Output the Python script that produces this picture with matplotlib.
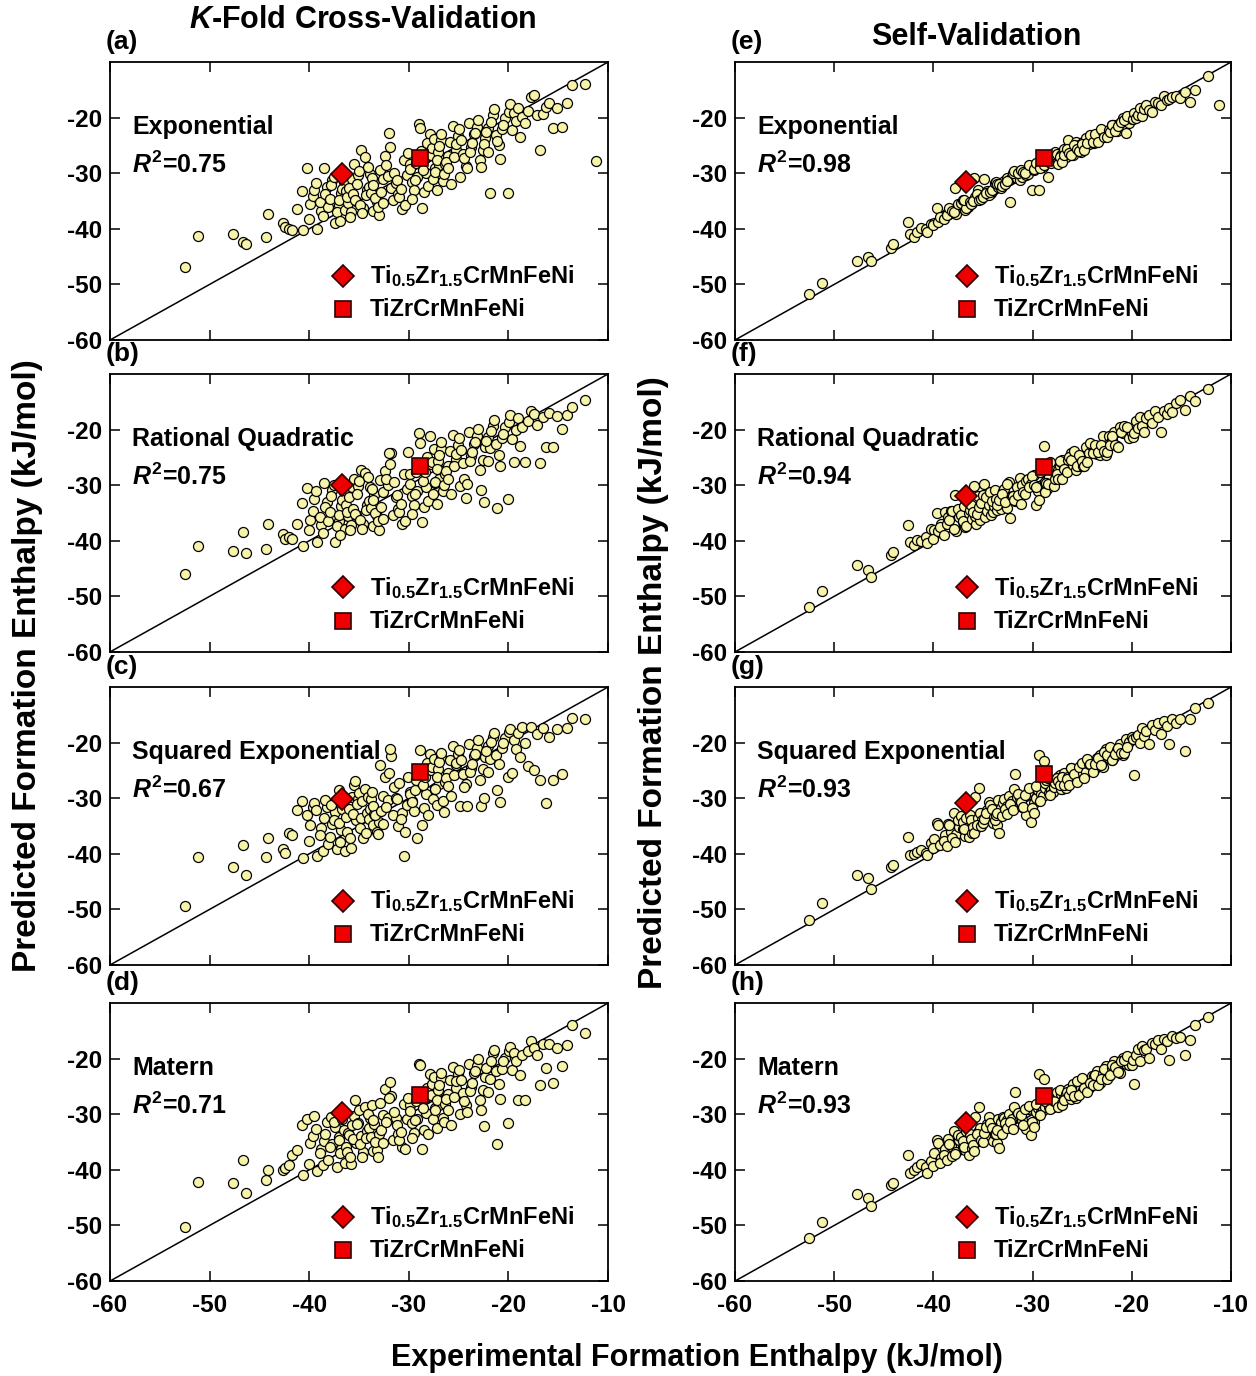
import numpy as np
import matplotlib
matplotlib.use("Agg")
import matplotlib.pyplot as plt

plt.rcParams.update({
    "font.family": ["Liberation Sans", "DejaVu Sans"],
    "font.weight": "bold",
    "axes.unicode_minus": False,
    "mathtext.fontset": "custom",
    "mathtext.rm": "Liberation Sans:bold",
    "mathtext.it": "Liberation Sans:italic:bold",
    "mathtext.bf": "Liberation Sans:bold",
})

nan = np.nan

# experimental formation enthalpy (kJ/mol), shared by every panel
exp_enthalpy = [
    -52.5, -51.2, -47.7, -46.6, -46.3, -44.3, -44.1, -42.6, -42.4, -42.0,
    -41.7, -41.2,
    -40.7, -40.2, -40.6, -39.9, -39.6, -40.0, -39.2, -39.5, -38.8, -39.3,
    -38.5, -38.9, -38.2, -38.6, -38.4, -37.7, -38.1, -37.4, -37.9, -37.8,
    -37.0, -37.5, -36.8, -37.2, -36.5, -37.0, -36.4, -36.7, -36.9, -36.1,
    -36.3, -35.7, -36.2, -35.8, -35.5, -36.0, -35.3, -35.9, -35.1, -35.6,
    -35.4, -34.8, -35.2, -34.6, -35.0, -34.2, -34.9, -34.4, -34.0, -34.7,
    -33.9, -34.3, -33.6, -34.1, -33.5, -33.8, -33.2, -33.7, -33.0, -33.6,
    -32.9, -33.4, -32.6, -33.1, -32.4, -32.8, -32.1, -32.6, -31.8, -32.3,
    -31.6, -32.0, -31.3, -31.9, -31.1, -31.5, -30.7, -31.2, -30.5, -31.0,
    -30.2, -30.8, -29.9, -30.4, -29.7, -30.1, -29.5, -29.9, -29.2, -29.7,
    -29.0, -29.4, -28.7, -29.3, -28.5, -28.9, -28.3, -28.8, -28.1, -28.6,
    -27.9, -28.4, -27.6, -28.2, -27.4, -27.8, -27.2, -27.7, -27.0, -27.5,
    -27.1, -27.4, -26.8, -27.2, -26.6, -27.0, -26.4, -26.8, -26.1, -26.5,
    -25.9, -26.3, -25.6, -26.1, -25.3, -25.8, -25.1, -25.5, -24.9, -25.3,
    -24.6, -25.0, -24.3, -24.8, -24.0, -24.5, -23.8, -24.2, -23.5, -23.9,
    -23.2, -23.7, -22.9, -23.4, -22.6, -23.1, -22.3, -22.8, -22.0, -22.5,
    -21.8, -22.2, -21.5, -22.0, -21.2, -21.7, -20.9, -21.4, -20.6, -21.1,
    -20.3, -20.8, -20.0, -20.5, -19.9,
    -19.8, -19.6, -19.4, -19.2, -19.0, -18.8, -18.6, -18.3, -18.0, -17.7,
    -17.4, -17.1, -16.8, -16.5, -16.2, -15.9, -15.5, -15.1, -14.6, -14.1,
    -13.6, -12.3, -11.2,
]

# K-fold cross-validation predictions
kfold_exponential = [
    -46.9, -41.3, -40.9, -42.4, -42.7, -41.5, -37.4, -38.9, -39.7, -40.0,
    -40.3, -36.5,
    -33.2, -29.0, -40.3, -35.6, -34.1, -38.3, -40.1, -33.0, -36.8, -31.8,
    -29.1, -35.2, -32.4, -37.7, -33.8, -31.2, -36.1, -39.0, -34.6, -32.2,
    -35.8, -30.6, -33.5, -37.0, -31.6, -34.9, -36.6, -32.9, -38.6, -35.3,
    -33.2, -31.0, -34.3, -36.9, -28.3, -32.6, -35.0, -37.8, -30.4, -33.8,
    -34.8, -25.8, -31.9, -36.3, -29.6, -33.1, -35.7, -27.0, -32.5, -37.2,
    -30.1, -34.0, -36.8, -28.8, -31.4, -33.6, -35.2, -30.9, -37.5, -32.1,
    -29.4, -34.4, -31.0, -36.0, -26.9, -33.3, -30.5, -35.4, -32.7, -28.6,
    -34.9, -22.7, -31.8, -25.2, -33.7, -29.9, -36.4, -31.3, -27.7, -34.2,
    -30.3, -32.9, -28.4, -35.8, -31.5, -26.3, -33.0, -29.2, -30.7, -34.6,
    -21.1, -31.2, -36.2, -28.1, -33.4, -21.8, -30.0, -26.0, -32.3, -29.5,
    -22.9, -27.3, -31.1, -24.6, -29.0, -26.7, -33.0, -25.5, -28.5, -23.9,
    -26.2, -29.8, -24.0, -27.6, -31.4, -25.1, -28.3, -22.9, -26.9, -30.2,
    -24.4, -27.9, -21.5, -29.1, -25.8, -32.0, -23.3, -27.0, -30.6, -24.8,
    -26.5, -22.1, -28.7, -24.0, -20.9, -27.3, -25.2, -29.0, -23.0, -26.1,
    -21.6, -24.5, -27.7, -22.8, -25.9, -20.4, -23.6, -28.9, -21.9, -24.7,
    -33.5, -22.5, -19.6, -26.2, -23.1, -20.8, -25.0, -18.5, -22.0, -24.2,
    -20.0, -27.5, -33.5, -21.3, -19.0,
    -17.5, -22.3, -19.2, -20.6, -18.3, -23.4, -19.9, -21.0, -18.8, -16.3,
    -16.0, -19.5, -25.9, -19.4, -18.0, -17.3, -21.8, -18.2, -21.6, -17.4,
    -14.1, -14.0, -27.8,
]

kfold_rational = [
    -46.0, -41.0, -41.9, -38.5, -42.2, -41.5, -37.0, -38.8, -39.7, -39.4,
    -39.7, -37.0,
    -33.2, -30.5, -41.0, -36.3, -34.6, -38.0, -40.3, -32.4, -37.2, -31.1,
    -29.6, -35.7, -33.0, -38.6, -34.0, -30.8, -36.5, -40.3, -34.9, -31.9,
    -36.4, -29.9, -33.8, -37.4, -31.2, -35.3, -37.9, -32.7, -38.9, -35.6,
    -33.5, -30.3, -34.8, -37.2, -28.8, -32.2, -35.4, -38.1, -30.1, -34.3,
    -35.1, -27.3, -31.5, -36.9, -29.2, -33.5, -36.2, -27.8, -32.8, -37.8,
    -30.4, -34.5, -37.3, -28.5, -31.8, -34.1, -35.6, -30.6, -38.0, -32.6,
    -29.0, -35.0, -31.3, -36.5, -27.5, -33.9, -30.0, -36.0, -24.3, -28.9,
    -35.4, -24.3, -32.1, -26.2, -34.3, -29.5, -37.0, -31.7, -27.9, -34.8,
    -30.7, -33.4, -28.0, -36.4, -31.9, -24.1, -33.5, -29.7, -31.1, -35.1,
    -20.6, -31.6, -36.7, -27.6, -33.9, -22.5, -30.4, -26.6, -32.9, -29.2,
    -21.1, -27.7, -31.6, -25.0, -29.6, -26.2, -33.4, -25.8, -28.9, -23.5,
    -25.7, -29.4, -23.5, -27.1, -31.0, -24.6, -28.0, -22.3, -26.6, -30.0,
    -23.9, -27.4, -21.0, -28.8, -25.3, -31.5, -22.8, -26.5, -30.1, -24.4,
    -26.0, -21.6, -32.3, -23.6, -20.5, -28.8, -24.8, -29.8, -22.6, -25.6,
    -21.2, -24.0, -27.2, -22.3, -25.4, -19.9, -23.1, -30.8, -21.4, -33.1,
    -23.4, -22.0, -19.3, -25.7, -22.6, -20.3, -24.6, -18.3, -21.6, -34.1,
    -19.5, -26.6, -32.4, -20.8, -18.6,
    -17.4, -21.7, -25.9, -20.1, -18.0, -22.9, -19.5, -25.9, -18.4, -16.7,
    -17.2, -19.1, -26.1, -17.8, -23.2, -17.0, -23.2, -17.6, -19.9, -17.3,
    -16.0, -14.6, nan,
]

kfold_squared = [
    -49.4, -40.6, -42.4, -38.4, -43.9, -40.6, -37.2, -39.1, -39.8, -36.2,
    -36.6, -32.1,
    -30.5, -33.0, -40.7, -34.9, -31.5, -37.7, -40.4, -30.9, -35.4, -32.1,
    -33.6, -36.6, -31.6, -39.5, -30.4, -34.7, -38.3, -32.4, -36.9, -31.2,
    -28.6, -33.9, -35.7, -39.2, -30.8, -34.4, -39.5, -32.0, -37.8, -31.0,
    -33.3, -29.7, -36.1, -38.9, -27.6, -31.9, -34.0, -37.1, -30.2, -32.8,
    -26.9, -33.5, -31.0, -37.1, -29.0, -32.6, -35.3, -28.3, -33.7, -30.5,
    -31.9, -36.2, -34.8, -29.8, -32.9, -30.1, -36.0, -28.9, -34.2, -31.4,
    -24.1, -33.1, -29.6, -36.4, -26.2, -32.3, -30.3, -34.7, -22.4, -31.6,
    -33.0, -25.4, -29.9, -21.1, -35.0, -28.0, -32.6, -30.2, -40.4, -27.2,
    -31.2, -33.8, -28.9, -36.1, -30.5, -26.1, -32.3, -29.2, -37.1, -30.6,
    -24.9, -28.5, -34.8, -26.8, -31.7, -21.3, -29.3, -25.4, -33.1, -27.7,
    -22.1, -26.1, -30.2, -23.6, -28.1, -25.0, -31.3, -24.4, -27.4, -22.9,
    -24.8, -28.3, -22.6, -26.2, -30.5, -23.4, -27.0, -21.8, -25.5, -32.5,
    -23.2, -26.3, -20.6, -27.8, -24.1, -29.6, -22.1, -25.9, -31.4, -23.7,
    -25.6, -21.4, -27.5, -23.2, -20.3, -28.0, -24.6, -31.4, -22.4, -25.2,
    -20.9, -23.8, -26.7, -22.0, -24.8, -19.5, -22.6, -31.4, -20.6, -30.0,
    -23.0, -21.5, -18.9, -25.3, -22.2, -19.8, -23.9, -18.3, -20.9, -28.5,
    -19.2, -30.6, -26.2, -20.1, -18.0,
    -17.6, -25.5, -19.6, -21.2, -18.3, -22.6, -17.1, -20.0, -24.2, -17.1,
    -25.0, -18.5, -26.8, -17.3, -30.8, -19.0, -26.8, -17.6, -25.7, -17.4,
    -15.6, -15.8, nan,
]

kfold_matern = [
    -50.3, -42.2, -42.4, -38.3, -44.2, -41.8, -40.1, -40.1, -39.7, -39.2,
    -37.4, -36.4,
    -31.9, -30.8, -41.0, -35.1, -33.9, -38.9, -40.2, -30.3, -36.3, -32.7,
    -34.8, -37.0, -31.4, -39.2, -33.6, -35.4, -38.3, -32.2, -35.9, -30.5,
    -34.1, -31.3, -36.2, -39.5, -32.9, -34.6, -38.7, -30.9, -37.0, -33.4,
    -35.8, -32.0, -36.8, -39.0, -30.3, -33.8, -35.1, -37.6, -31.6, -34.4,
    -27.5, -33.9, -31.8, -36.8, -29.2, -33.0, -35.3, -28.7, -32.4, -37.7,
    -30.6, -34.3, -36.6, -29.9, -31.7, -34.0, -36.5, -28.3, -33.5, -31.1,
    -27.9, -35.0, -30.2, -37.7, -25.5, -32.9, -30.7, -35.2, -26.7, -31.4,
    -34.6, -27.1, -30.6, -24.2, -33.6, -29.6, -35.9, -31.9, -28.1, -34.7,
    -30.9, -33.2, -28.4, -36.3, -31.5, -27.0, -33.4, -29.4, -30.8, -34.2,
    -20.9, -31.1, -36.2, -27.7, -32.8, -21.2, -29.8, -26.3, -33.6, -28.9,
    -22.8, -27.0, -30.9, -25.2, -28.8, -26.5, -32.5, -24.6, -28.4, -23.3,
    -25.6, -29.3, -23.4, -27.5, -30.6, -24.8, -28.1, -22.5, -26.3, -31.3,
    -23.9, -27.3, -21.5, -29.2, -25.2, -32.0, -22.7, -26.9, -30.0, -24.1,
    -26.2, -22.0, -28.3, -23.8, -20.9, -27.7, -25.1, -29.5, -22.6, -25.8,
    -21.4, -24.3, -27.4, -22.2, -25.6, -20.1, -23.3, -29.2, -21.5, -32.1,
    -23.6, -21.6, -19.0, -26.0, -22.3, -20.4, -24.6, -18.5, -21.8, -35.3,
    -19.8, -27.2, -31.5, -20.5, -18.7,
    -17.9, -22.1, -19.0, -20.4, -27.5, -23.0, -19.3, -27.5, -18.7, -16.8,
    -18.0, -19.4, -24.8, -17.4, -21.6, -17.3, -24.3, -18.0, -21.3, -17.6,
    -13.9, -15.3, nan,
]

# self-validation predictions
self_exponential = [
    -51.8, -49.7, -45.8, -45.0, -45.8, -43.4, -42.8, -38.8, -41.0, -41.5,
    -40.5, -39.9,
    -40.0, -39.1, -40.6, -38.9, -36.2, -39.3, -38.2, -38.8, -37.6, -37.9,
    -37.0, -38.2, -36.9, -37.6, -36.3, -37.4, -36.8, -35.9, -37.0, -32.7,
    -36.2, -35.6, -36.6, -35.4, -36.0, -34.9, -35.8, -36.3, -34.8, -35.4,
    -35.1, -34.6, -35.5, -34.3, -33.1, -35.0, -34.5, -30.9, -34.1, -33.8,
    -34.9, -33.7, -34.6, -33.2, -34.2, -33.6, -31.0, -34.0, -33.0, -33.5,
    -32.9, -33.4, -32.4, -33.1, -32.5, -31.8, -32.6, -31.5, -32.2, -31.9,
    -31.4, -32.0, -30.8, -32.3, -31.2, -31.9, -30.6, -31.4, -30.4, -35.1,
    -30.9, -30.0, -31.3, -29.6, -30.7, -29.9, -30.4, -29.4, -30.2, -29.8,
    -29.2, -30.0, -29.5, -28.6, -29.1, -33.0, -28.7, -29.3, -28.4, -28.2,
    -28.8, -33.0, -28.0, -29.0, -27.6, -28.5, -27.9, -27.3, -28.1, -26.9,
    -27.6, -30.6, -27.2, -26.8, -27.5, -26.6, -27.1, -26.2, -26.9, -26.5,
    -26.7, -28.3, -25.7, -27.0, -27.1, -28.0, -24.1, -26.7, -26.4, -25.6,
    -26.7, -26.4, -24.4, -26.7, -25.0, -25.0, -26.1, -25.7, -24.4, -26.0,
    -23.6, -24.8, -24.7, -25.9, -23.4, -24.5, -24.5, -23.1, -23.2, -24.4,
    -23.4, -22.9, -22.5, -24.3, -22.9, -22.1, -22.2, -23.4, -21.3, -23.5,
    -21.3, -22.6, -22.4, -21.4, -21.0, -22.4, -20.0, -21.5, -22.7, -20.7,
    -20.9, -20.5, -20.2, -19.7, -20.3,
    -19.2, -20.1, -19.5, -18.3, -19.7, -18.5, -17.8, -18.7, -18.9, -17.2,
    -17.3, -17.7, -16.1, -16.8, -16.7, -16.3, -16.1, -16.4, -15.4, -17.1,
    -15.1, -12.5, -17.8,
]

self_rational = [
    -51.9, -49.1, -44.3, -45.2, -46.5, -42.5, -42.0, -37.1, -40.3, -40.8,
    -39.8, -40.1,
    -39.3, -37.8, -40.4, -38.0, -35.0, -39.6, -36.9, -38.2, -34.9, -37.5,
    -35.8, -38.9, -34.6, -37.0, -36.2, -38.3, -34.7, -35.7, -37.9, -31.8,
    -36.7, -34.2, -37.6, -35.3, -33.9, -36.4, -35.0, -37.3, -33.8, -36.0,
    -34.5, -36.9, -33.5, -35.6, -31.9, -34.9, -36.3, -30.1, -33.7, -35.2,
    -33.9, -35.8, -33.2, -34.7, -31.8, -35.4, -29.8, -33.5, -34.9, -32.1,
    -33.8, -31.3, -34.5, -32.9, -33.6, -30.9, -34.2, -32.4, -31.0, -33.5,
    -30.6, -32.7, -34.1, -31.5, -29.4, -33.1, -31.9, -29.8, -32.8, -35.9,
    -30.3, -31.9, -28.7, -32.6, -30.0, -31.7, -29.2, -33.4, -28.9, -31.2,
    -29.7, -31.5, -28.1, -30.4, -33.6, -28.4, -31.0, -29.9, -27.6, -30.3,
    -26.8, -32.7, -29.4, -27.7, -30.6, -22.9, -28.6, -31.2, -27.1, -29.6,
    -26.5, -29.8, -28.4, -25.9, -27.2, -30.1, -26.6, -28.8, -25.5, -27.9,
    -25.9, -28.9, -26.5, -25.6, -27.4, -28.9, -25.5, -27.0, -24.3, -27.6,
    -26.3, -24.9, -27.3, -25.5, -26.5, -23.9, -24.9, -26.5, -26.5, -24.5,
    -23.1, -25.6, -24.2, -26.6, -22.9, -25.8, -23.1, -22.5, -24.4, -24.2,
    -24.6, -22.8, -21.1, -24.1, -24.5, -22.7, -21.1, -23.9, -21.8, -24.1,
    -20.5, -22.7, -22.9, -21.2, -19.6, -22.7, -20.6, -23.1, -19.5, -20.5,
    -21.5, -19.4, -20.6, -19.6, -21.4,
    -20.6, -18.5, -19.8, -17.7, -19.3, -20.4, -18.0, -17.4, -18.9, -16.6,
    -17.8, -20.5, -16.6, -17.2, -16.1, -16.8, -15.3, -14.7, -16.4, -14.0,
    -14.9, -12.7, nan,
]

self_squared = [
    -51.9, -48.9, -43.9, -44.3, -46.4, -42.3, -42.0, -37.0, -40.2, -40.0,
    -39.6, -39.3,
    -39.8, -38.1, -40.3, -37.4, -34.5, -39.0, -38.2, -34.8, -36.7, -38.5,
    -34.6, -37.7, -36.0, -38.6, -34.9, -36.4, -37.2, -35.1, -32.6, -37.8,
    -35.5, -34.0, -36.8, -33.2, -35.9, -34.3, -37.0, -33.5, -35.6, -36.3,
    -33.1, -35.4, -34.0, -29.8, -33.6, -35.1, -32.7, -36.2, -33.9, -34.9,
    -28.2, -33.4, -35.0, -32.2, -34.5, -31.6, -33.7, -30.7, -34.4, -32.7,
    -33.3, -31.2, -34.8, -32.0, -30.4, -33.9, -31.8, -33.1, -30.9, -32.6,
    -30.2, -36.3, -31.4, -33.2, -29.6, -31.9, -30.5, -32.9, -25.6, -31.1,
    -29.8, -32.2, -30.0, -28.4, -31.5, -29.3, -33.0, -30.6, -28.8, -31.6,
    -34.2, -29.5, -30.9, -28.1, -29.9, -31.8, -28.6, -32.7, -29.2, -27.8,
    -29.6, -22.3, -28.2, -30.5, -27.5, -23.3, -29.0, -27.3, -28.6, -26.7,
    -28.9, -26.4, -27.8, -29.5, -26.1, -28.0, -25.8, -27.2, -28.4, -26.3,
    -28.4, -26.9, -25.4, -27.6, -28.2, -26.1, -26.2, -27.7, -24.5, -26.6,
    -25.2, -27.7, -25.9, -24.6, -26.1, -25.7, -24.0, -27.1, -25.4, -24.4,
    -25.2, -23.7, -23.9, -26.3, -24.1, -22.9, -24.9, -23.9, -22.7, -25.2,
    -22.2, -23.9, -24.4, -22.8, -21.2, -24.0, -22.7, -21.6, -23.2, -22.2,
    -22.5, -20.7, -21.3, -23.1, -20.3, -22.0, -22.3, -20.9, -19.3, -21.9,
    -19.9, -21.8, -18.9, -20.7, -19.3,
    -25.9, -19.0, -18.6, -20.1, -17.4, -18.8, -17.9, -20.3, -16.8, -17.7,
    -16.4, -18.5, -16.1, -17.0, -20.3, -15.7, -16.4, -15.8, -21.5, -15.8,
    -13.7, -12.8, nan,
]

self_matern = [
    -52.3, -49.4, -44.4, -45.1, -46.5, -42.7, -42.4, -37.3, -40.6, -40.1,
    -39.4, -38.9,
    -39.5, -38.4, -40.6, -37.0, -34.7, -39.3, -37.8, -35.2, -36.3, -38.8,
    -34.4, -37.4, -35.7, -38.3, -35.3, -36.8, -37.5, -34.6, -33.0, -37.2,
    -35.9, -33.7, -36.4, -34.1, -35.3, -34.8, -37.3, -33.0, -35.9, -36.0,
    -33.6, -35.0, -34.4, -30.4, -33.2, -35.6, -32.4, -36.6, -34.2, -33.5,
    -28.7, -33.9, -34.6, -31.7, -34.9, -32.0, -33.4, -30.4, -34.8, -32.3,
    -33.0, -31.6, -35.2, -32.4, -30.8, -33.5, -31.4, -33.6, -30.5, -32.9,
    -30.6, -36.0, -31.0, -33.5, -29.9, -31.6, -30.9, -32.5, -26.0, -31.4,
    -29.5, -32.6, -30.4, -28.7, -31.1, -29.7, -32.6, -30.2, -29.1, -31.9,
    -33.8, -29.1, -31.3, -28.5, -29.6, -31.4, -28.9, -32.3, -29.6, -28.1,
    -29.3, -22.8, -28.6, -30.1, -27.8, -23.6, -28.7, -27.6, -28.9, -26.4,
    -28.6, -26.8, -27.4, -29.1, -26.5, -27.7, -26.1, -27.6, -28.0, -26.0,
    -26.3, -28.6, -27.0, -25.7, -26.3, -28.4, -25.4, -27.4, -27.2, -26.0,
    -24.6, -26.6, -27.1, -25.7, -24.2, -26.7, -25.2, -24.1, -25.6, -26.6,
    -24.4, -23.5, -25.3, -25.2, -23.1, -26.0, -23.2, -24.4, -22.3, -24.7,
    -24.4, -23.0, -22.8, -24.8, -21.3, -23.6, -23.2, -21.8, -21.6, -23.6,
    -20.4, -23.0, -21.8, -21.1, -22.5, -21.5, -19.8, -22.4, -21.0, -20.4,
    -21.2, -20.3, -21.2, -19.5, -20.2,
    -24.6, -19.3, -18.3, -20.4, -17.7, -18.5, -18.2, -19.9, -17.1, -17.4,
    -16.7, -18.2, -16.4, -16.8, -20.3, -16.0, -16.2, -16.1, -19.4, -16.7,
    -14.0, -12.5, nan,
]

# the two highlighted alloys: experimental value and prediction per panel (a-h)
alloy_names = [r"Ti$_{0.5}$Zr$_{1.5}$CrMnFeNi", "TiZrCrMnFeNi"]
alloy_exp = [-36.7, -28.9]
ti05_pred = [-30.2, -30.0, -30.2, -29.8, -31.6, -32.0, -30.9, -31.6]
tizr_pred = [-27.2, -26.6, -25.2, -26.5, -27.3, -26.8, -25.7, -26.7]

kernels = ["Exponential", "Rational Quadratic", "Squared Exponential", "Matern"]
r2_kfold = [0.75, 0.75, 0.67, 0.71]
r2_self = [0.98, 0.94, 0.93, 0.93]
panel_letters = ["a", "b", "c", "d", "e", "f", "g", "h"]

predictions = [kfold_exponential, kfold_rational, kfold_squared, kfold_matern,
               self_exponential, self_rational, self_squared, self_matern]
r2_values = r2_kfold + r2_self

fig = plt.figure(figsize=(12.56, 13.76), dpi=100)

col_left = [110 / 1256, 735 / 1256]
col_width = [498 / 1256, 496 / 1256]
row_bottom = [0.7529, 0.5262, 0.2987, 0.0690]
row_height = 0.2020

point_face = "#F7F4AA"
red_face = "#EE0000"
red_edge = "#300000"

for col in range(2):
    for row in range(4):
        i = col * 4 + row
        ax = fig.add_axes([col_left[col], row_bottom[row], col_width[col], row_height])

        ax.plot([-60, -10], [-60, -10], color="black", lw=1.1, zorder=1)
        ax.plot(exp_enthalpy, predictions[i], ls="none", marker="o", ms=7.2,
                mfc=point_face, mec="black", mew=0.9, zorder=2)
        ax.plot(alloy_exp[0], ti05_pred[i], ls="none", marker="D", ms=11.5,
                mfc=red_face, mec=red_edge, mew=1.2, zorder=3)
        ax.plot(alloy_exp[1], tizr_pred[i], ls="none", marker="s", ms=11,
                mfc=red_face, mec=red_edge, mew=1.2, zorder=3)

        ax.set_xlim(-60, -10)
        ax.set_ylim(-60, -10)
        ax.set_xticks([-60, -50, -40, -30, -20, -10])
        ax.set_yticks([-60, -50, -40, -30, -20])
        ax.tick_params(direction="in", top=True, right=True, length=7, width=1.1,
                       labelsize=17.5, pad=6)
        ax.tick_params(axis="x", pad=9)
        if row < 3:
            ax.tick_params(labelbottom=False)
        for sp in ax.spines.values():
            sp.set_linewidth(1.3)

        # kernel name and score
        ax.text(0.045, 0.765, kernels[row], transform=ax.transAxes,
                fontsize=18, va="center", ha="left")
        ax.text(0.045, 0.63, r"$R^2$=%.2f" % r2_values[i], transform=ax.transAxes,
                fontsize=18, va="center", ha="left")

        # key for the two alloys
        ax.plot(0.468, 0.232, marker="D", ms=11.5, mfc=red_face, mec=red_edge,
                mew=1.2, transform=ax.transAxes, clip_on=False)
        ax.plot(0.468, 0.113, marker="s", ms=11, mfc=red_face, mec=red_edge,
                mew=1.2, transform=ax.transAxes, clip_on=False)
        ax.text(0.522, 0.205, alloy_names[0], transform=ax.transAxes,
                fontsize=17, va="baseline", ha="left")
        ax.text(0.522, 0.085, alloy_names[1], transform=ax.transAxes,
                fontsize=17, va="baseline", ha="left")

        ax.text(-0.008, 1.072, "(%s)" % panel_letters[i], transform=ax.transAxes,
                fontsize=19, va="center", ha="left")

fig.text(0.289, 0.9855, r"$K$-Fold Cross-Validation", ha="center", va="center", fontsize=22)
fig.text(0.777, 0.973, "Self-Validation", ha="center", va="center", fontsize=22)
fig.text(0.022, 0.516, "Predicted Formation Enthalpy (kJ/mol)", rotation=90,
         ha="center", va="center", fontsize=24)
fig.text(0.520, 0.504, "Predicted Formation Enthalpy (kJ/mol)", rotation=90,
         ha="center", va="center", fontsize=24)
fig.text(0.555, 0.013, "Experimental Formation Enthalpy (kJ/mol)",
         ha="center", va="center", fontsize=22)

fig.savefig("out.png", dpi=100)
